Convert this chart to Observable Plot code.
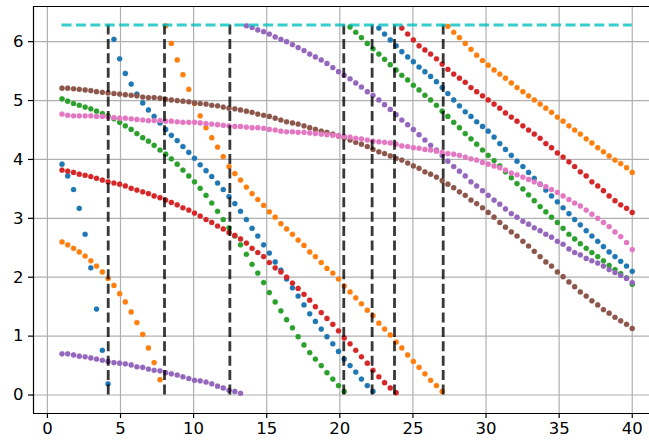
<!DOCTYPE html>
<html><head><meta charset="utf-8">
<script src="https://cdn.jsdelivr.net/npm/d3@7"></script>
<script src="https://cdn.jsdelivr.net/npm/@observablehq/plot@0.6"></script>
<style>body{margin:0;background:#fff} svg{display:block}</style>
</head><body><div id="chart"></div>
<script>
const xs = [1.00,1.39,1.79,2.18,2.58,2.97,3.36,3.76,4.15,4.55,4.94,5.33,5.73,6.12,6.52,6.91,7.30,7.70,8.09,8.48,
8.88,9.27,9.67,10.06,10.45,10.85,11.24,11.64,12.03,12.42,12.82,13.21,13.61,14.00,14.39,14.79,15.18,15.58,15.97,16.36,
16.76,17.15,17.55,17.94,18.33,18.73,19.12,19.52,19.91,20.30,20.70,21.09,21.48,21.88,22.27,22.67,23.06,23.45,23.85,24.24,
24.64,25.03,25.42,25.82,26.21,26.61,27.00,27.39,27.79,28.18,28.58,28.97,29.36,29.76,30.15,30.55,30.94,31.33,31.73,32.12,
32.52,32.91,33.30,33.70,34.09,34.48,34.88,35.27,35.67,36.06,36.45,36.85,37.24,37.64,38.03,38.42,38.82,39.21,39.61,40.00];

const blue = [3.92,3.72,3.49,3.17,2.73,2.16,1.46,0.76,0.19,
6.04,5.71,5.46,5.28,5.11,4.96,4.84,4.73,4.62,4.51,4.41,
4.32,4.22,4.12,4.02,3.91,3.81,3.71,3.60,3.49,3.37,
3.25,3.12,2.98,2.83,2.70,2.55,2.41,2.26,2.12,1.97,
1.82,1.68,1.53,1.38,1.25,1.12,0.99,0.87,0.74,0.61,
0.50,0.39,0.27,0.16,0.06,
6.23,6.13,6.03,5.93,5.83,
5.74,5.66,5.57,5.49,5.41,5.32,5.22,5.12,5.01,4.91,
4.81,4.73,4.64,4.56,4.48,4.38,4.27,4.17,4.07,3.97,
3.88,3.78,3.68,3.58,3.48,3.38,3.28,3.18,3.08,2.98,
2.89,2.79,2.70,2.61,2.52,2.43,2.35,2.27,2.19,2.10];

const orange = [2.60,2.55,2.49,2.43,2.36,2.28,2.19,2.09,1.98,1.86,1.72,1.58,1.41,1.23,1.03,0.80,0.55,0.26,
6.27,5.97,
5.69,5.44,5.19,4.95,4.74,4.54,4.37,4.21,4.05,3.88,
3.76,3.65,3.53,3.42,3.32,3.22,3.11,3.02,2.91,2.82,
2.73,2.63,2.54,2.43,2.35,2.25,2.15,2.07,1.97,1.85,
1.75,1.65,1.55,1.44,1.35,1.22,1.12,1.02,0.90,0.80,
0.68,0.57,0.47,0.36,0.25,0.16,0.06,
6.26,6.16,6.07,
5.97,5.87,5.77,5.68,5.60,5.52,5.45,5.38,5.30,5.22,
5.15,5.08,5.01,4.94,4.87,4.80,4.72,4.65,4.57,4.50,
4.43,4.35,4.28,4.20,4.13,4.06,3.99,3.93,3.86,3.78];

const green = [5.03,4.99,4.95,4.92,4.89,4.86,4.82,4.78,4.74,4.69,
4.63,4.57,4.51,4.44,4.37,4.31,4.24,4.16,4.09,4.01,
3.92,3.82,3.72,3.62,3.51,3.39,3.26,3.12,2.98,2.84,
2.70,2.55,2.39,2.22,2.07,1.91,1.74,1.58,1.43,1.28,
1.14,0.99,0.85,0.72,0.61,0.50,0.38,0.27,0.16,0.06,
6.25,6.16,6.07,5.97,5.88,5.79,5.70,5.61,5.52,5.43,
5.35,5.26,5.18,5.09,5.01,4.92,4.82,4.73,4.63,4.54,
4.44,4.35,4.26,4.16,4.07,3.98,3.89,3.79,3.69,3.59,
3.50,3.40,3.30,3.20,3.11,3.02,2.93,2.83,2.73,2.65,
2.57,2.49,2.42,2.35,2.28,2.20,2.13,2.06,1.99,1.88];

const red = [3.82,3.80,3.78,3.75,3.73,3.71,3.68,3.65,3.62,3.60,
3.58,3.55,3.51,3.48,3.45,3.42,3.38,3.35,3.31,3.27,
3.23,3.18,3.14,3.09,3.04,2.98,2.93,2.87,2.82,2.76,
2.71,2.65,2.58,2.49,2.42,2.35,2.25,2.16,2.09,2.00,
1.90,1.81,1.71,1.61,1.50,1.40,1.30,1.20,1.09,0.97,
0.87,0.76,0.65,0.54,0.42,0.31,0.21,0.12,0.04,
6.23,
6.13,6.03,5.93,5.86,5.79,5.71,5.62,5.53,5.45,5.38,
5.31,5.22,5.15,5.08,5.01,4.94,4.87,4.79,4.72,4.65,
4.57,4.50,4.43,4.36,4.27,4.20,4.11,4.04,3.96,3.88,
3.79,3.72,3.62,3.55,3.47,3.38,3.30,3.23,3.17,3.10];

const purple = [0.70,0.70,0.68,0.66,0.65,0.63,0.61,0.59,0.57,0.55,
0.54,0.53,0.51,0.48,0.47,0.44,0.42,0.41,0.38,0.36,
0.34,0.31,0.28,0.25,0.24,0.22,0.19,0.15,0.12,0.08,
0.06,0.03,
6.27,6.24,6.20,6.17,6.13,6.08,6.04,6.00,
5.95,5.90,5.85,5.79,5.74,5.69,5.63,5.56,5.49,5.43,
5.37,5.30,5.23,5.15,5.09,5.01,4.93,4.85,4.76,4.67,
4.59,4.51,4.42,4.33,4.24,4.16,4.07,3.97,3.88,3.80,
3.72,3.62,3.55,3.47,3.39,3.31,3.24,3.16,3.08,3.02,
2.95,2.90,2.84,2.79,2.73,2.68,2.61,2.56,2.48,2.42,
2.38,2.32,2.28,2.24,2.19,2.13,2.08,2.03,1.98,1.91];

const brown = [5.21,5.21,5.20,5.19,5.18,5.17,5.15,5.14,5.13,5.12,
5.11,5.10,5.09,5.08,5.06,5.05,5.05,5.04,5.02,5.01,
5.00,4.99,4.98,4.96,4.95,4.94,4.92,4.91,4.89,4.87,
4.86,4.84,4.82,4.80,4.77,4.75,4.73,4.70,4.67,4.64,
4.62,4.60,4.57,4.54,4.51,4.48,4.46,4.43,4.40,4.37,
4.33,4.29,4.26,4.22,4.17,4.13,4.10,4.06,4.02,3.99,
3.94,3.89,3.85,3.79,3.75,3.70,3.64,3.58,3.52,3.45,
3.39,3.31,3.25,3.18,3.10,3.02,2.93,2.85,2.77,2.70,
2.61,2.53,2.44,2.35,2.26,2.19,2.09,2.01,1.92,1.84,
1.75,1.68,1.60,1.53,1.45,1.39,1.32,1.26,1.20,1.13];

const pink = [4.77,4.75,4.74,4.74,4.74,4.74,4.73,4.73,4.72,4.71,
4.70,4.70,4.69,4.68,4.67,4.66,4.66,4.66,4.65,4.65,
4.64,4.63,4.63,4.63,4.62,4.61,4.60,4.59,4.58,4.57,
4.56,4.56,4.55,4.54,4.54,4.53,4.51,4.50,4.48,4.47,
4.47,4.46,4.46,4.45,4.44,4.43,4.42,4.41,4.40,4.39,
4.38,4.36,4.35,4.33,4.31,4.30,4.29,4.28,4.26,4.23,
4.22,4.20,4.19,4.17,4.16,4.14,4.12,4.10,4.09,4.07,
4.04,4.01,3.99,3.95,3.92,3.89,3.86,3.82,3.77,3.74,
3.70,3.66,3.62,3.58,3.54,3.49,3.44,3.38,3.32,3.26,
3.21,3.14,3.07,3.00,2.93,2.86,2.77,2.69,2.59,2.47];

const seriesNames = ["C0","C1","C2","C3","C4","C5","C6"];
const seriesColors = ["#1f77b4","#ff7f0e","#2ca02c","#d62728","#9467bd","#8c564b","#e377c2"];
const seriesValues = [blue, orange, green, red, purple, brown, pink];

const vlines = [4.16, 8.01, 12.48, 20.27, 22.21, 23.74, 27.07];
const vlineTop = 6.2832;
const hlineY = 6.2832;
const hlineFrom = 1, hlineTo = 40;

const xTicks = [0,5,10,15,20,25,30,35,40];
const yTicks = [0,1,2,3,4,5,6];
const xDomain = [-0.95, 41.18];
const yDomain = [-0.314, 6.597];

const pts = [];
seriesValues.forEach((vals, k) => vals.forEach((v, i) => pts.push({x: xs[i], y: v, s: seriesNames[k]})));

const chart = Plot.plot({
  width: 649, height: 443,
  marginLeft: 33, marginRight: 0, marginTop: 6, marginBottom: 30,
  x: {domain: xDomain},
  y: {domain: yDomain},
  color: {type: "ordinal", domain: seriesNames, range: seriesColors},
  style: {fontFamily: "DejaVu Sans", fontSize: "16.5px", color: "black", background: "white"},
  marks: [
    Plot.gridX(xTicks, {stroke: "#b0b0b0", strokeOpacity: 1, strokeWidth: 1.2}),
    Plot.gridY(yTicks, {stroke: "#b0b0b0", strokeOpacity: 1, strokeWidth: 1.2}),
    Plot.dot(pts, {x: "x", y: "y", fill: "s", r: 2.6, stroke: "s", strokeOpacity: 0.35, strokeWidth: 0.8}),
    Plot.ruleX(vlines, {y1: 0, y2: vlineTop, stroke: "black", strokeOpacity: 0.78, strokeWidth: 2.8, strokeDasharray: "10,4.4"}),
    Plot.ruleY([hlineY], {x1: hlineFrom, x2: hlineTo, stroke: "#00bfbf", strokeOpacity: 0.78, strokeWidth: 2.8, strokeDasharray: "10,4.4"}),
    Plot.ruleX([xDomain[0]], {stroke: "black", strokeWidth: 1.2}),
    Plot.ruleY(yDomain, {stroke: "black", strokeWidth: 1.2}),
    Plot.axisX(xTicks, {tickSize: 5, tickPadding: 4, label: null, strokeWidth: 1.2, tickFormat: d3.format("d")}),
    Plot.axisY(yTicks, {tickSize: 5, tickPadding: 5, label: null, strokeWidth: 1.2, tickFormat: d3.format("d")})
  ]
});
document.getElementById("chart").appendChild(chart);
</script>
</body></html>
